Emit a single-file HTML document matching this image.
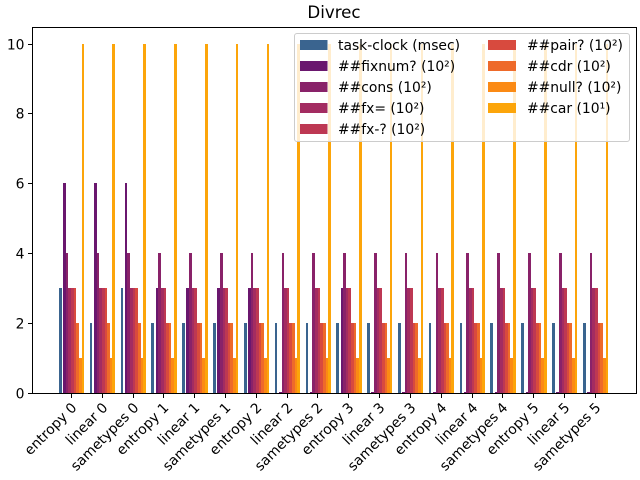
<!DOCTYPE html>
<html>
<head>
<meta charset="utf-8">
<title>Divrec</title>
<style>
html,body{margin:0;padding:0;background:#fff;}
svg{display:block;}
text{font-family:"DejaVu Sans","Liberation Sans",sans-serif;fill:#000;}
</style>
</head>
<body>
<svg id="chart" xmlns="http://www.w3.org/2000/svg" width="640" height="480" viewBox="0 0 640 480">
  <rect x="0" y="0" width="640" height="480" fill="#fff"></rect>
  <text x="334" y="18" font-size="16.67" text-anchor="middle">Divrec</text>
  <g id="bars"></g>
  <g id="axes"></g>
  <g id="legend"></g>
</svg>
<script>
const categories = ["entropy 0","linear 0","sametypes 0","entropy 1","linear 1","sametypes 1","entropy 2","linear 2","sametypes 2","entropy 3","linear 3","sametypes 3","entropy 4","linear 4","sametypes 4","entropy 5","linear 5","sametypes 5"];
const seriesNames = ["task-clock (msec)","##fixnum? (10²)","##cons (10²)","##fx= (10²)","##fx-? (10²)","##pair? (10²)","##cdr (10²)","##null? (10²)","##car (10¹)"];
const seriesColors = ["#3a648f","#6a176e","#892269","#a32c61","#bd3853","#d84a3e","#ee6a2a","#fb8a14","#fca50a"];
const taskClock = [3,2,3,2,2,2,2,2,2,2,2,2,2,2,2,2,2,2];
const fixnum = [6,6,6,3,3,3,3,0.03,0.03,3,0.03,0.03,0.03,0.03,0.03,0.03,0.03,0.03];
const cons = [4,4,4,4,4,4,4,4,4,4,4,4,4,4,4,4,4,4];
const fxEq = [3,3,3,3,3,3,3,3,3,3,3,3,3,3,3,3,3,3];
const fxQ = [3,3,3,3,3,3,3,3,3,3,3,3,3,3,3,3,3,3];
const pair = [3,3,3,2,2,2,2,2,2,2,2,2,2,2,2,2,2,2];
const cdr = [2,2,2,2,2,2,2,2,2,2,2,2,2,2,2,2,2,2];
const nullQ = [1,1,1,1,1,1,1,1,1,1,1,1,1,1,1,1,1,1];
const car = [10,10,10,10,10,10,10,10,10,10,10,10,10,10,10,10,10,10];
const yTicks = [0,2,4,6,8,10];

const allSeries = [taskClock,fixnum,cons,fxEq,fxQ,pair,cdr,nullQ,car];
const NS = "http://www.w3.org/2000/svg";
const plotLeft = 32.5, plotRight = 636.5, plotTop = 27.5, plotBottom = 393.5;
function xScale(i){ return 71.4 + i * 30.82; }
function yScale(v){ return 393 - v * 34.95; }
function seriesOffset(s){ return s === 0 ? -12.4 : -8.2 + (s - 1) * 2.63; }
const barWidth = 2.63;

function make(tag, attrs, parent){
  const el = document.createElementNS(NS, tag);
  for (const k in attrs) el.setAttribute(k, attrs[k]);
  parent.appendChild(el);
  return el;
}

const barsG = document.getElementById("bars");
allSeries.forEach(function(vals, s){
  vals.forEach(function(v, i){
    const left = Math.round(xScale(i) + seriesOffset(s));
    const right = Math.round(xScale(i) + seriesOffset(s) + barWidth);
    const top = Math.round(yScale(v));
    const base = Math.round(yScale(0));
    const r = make("rect", {
      x: left,
      y: top,
      width: right - left,
      height: base - top,
      fill: seriesColors[s],
      "shape-rendering": "crispEdges"
    }, barsG);
    
    
  });
});

const axesG = document.getElementById("axes");
const spines = [
  [plotLeft, plotTop, plotLeft, plotBottom],
  [plotRight, plotTop, plotRight, plotBottom],
  [plotLeft, plotTop, plotRight, plotTop],
  [plotLeft, plotBottom, plotRight, plotBottom]
];
spines.forEach(function(c){
  const l = make("line", {x1:c[0], y1:c[1], x2:c[2], y2:c[3], stroke:"#000", "stroke-width":1, "stroke-linecap":"square"}, axesG);
  
  
});
yTicks.forEach(function(v){
  const y = Math.round(yScale(v)) + 0.5;
  const t = make("line", {x1:plotLeft - 4.5, y1:y, x2:plotLeft, y2:y, stroke:"#000", "stroke-width":1}, axesG);
  
  
  const lb = make("text", {x:plotLeft - 8, y:y + 5, "font-size":13.89, "text-anchor":"end"}, axesG);
  
  
  lb.textContent = String(v);
});
categories.forEach(function(c, i){
  const x = Math.round(xScale(i) - 0.5) + 0.5;
  const t = make("line", {x1:x, y1:plotBottom, x2:x, y2:plotBottom + 4.5, stroke:"#000", "stroke-width":1}, axesG);
  
  
  const ax = x + 6, ay = 408.5;
  const lb = make("text", {x:ax, y:ay, "font-size":13.89, "text-anchor":"end", transform:"rotate(-45 " + ax + " " + ay + ")"}, axesG);
  
  
  lb.textContent = c;
});

const legendG = document.getElementById("legend");
const box = make("rect", {x:294.5, y:33.5, width:335, height:108, rx:2.5, ry:2.5, fill:"#fff", "fill-opacity":0.8, stroke:"#ccc", "stroke-width":1}, legendG);


seriesNames.forEach(function(name, s){
  const col = s < 5 ? 0 : 1;
  const row = s < 5 ? s : s - 5;
  const hx = col === 0 ? 300 : 488;
  const tx = col === 0 ? 338 : 527;
  const y = 40 + row * 21;
  const h = make("rect", {x:hx, y:y, width:col === 0 ? 27.5 : 28, height:10, fill:seriesColors[s], "shape-rendering":"crispEdges"}, legendG);
  
  
  const t = make("text", {x:tx, y:y + 10, "font-size":13.89}, legendG);
  
  
  t.textContent = name;
});
</script>
</body>
</html>
